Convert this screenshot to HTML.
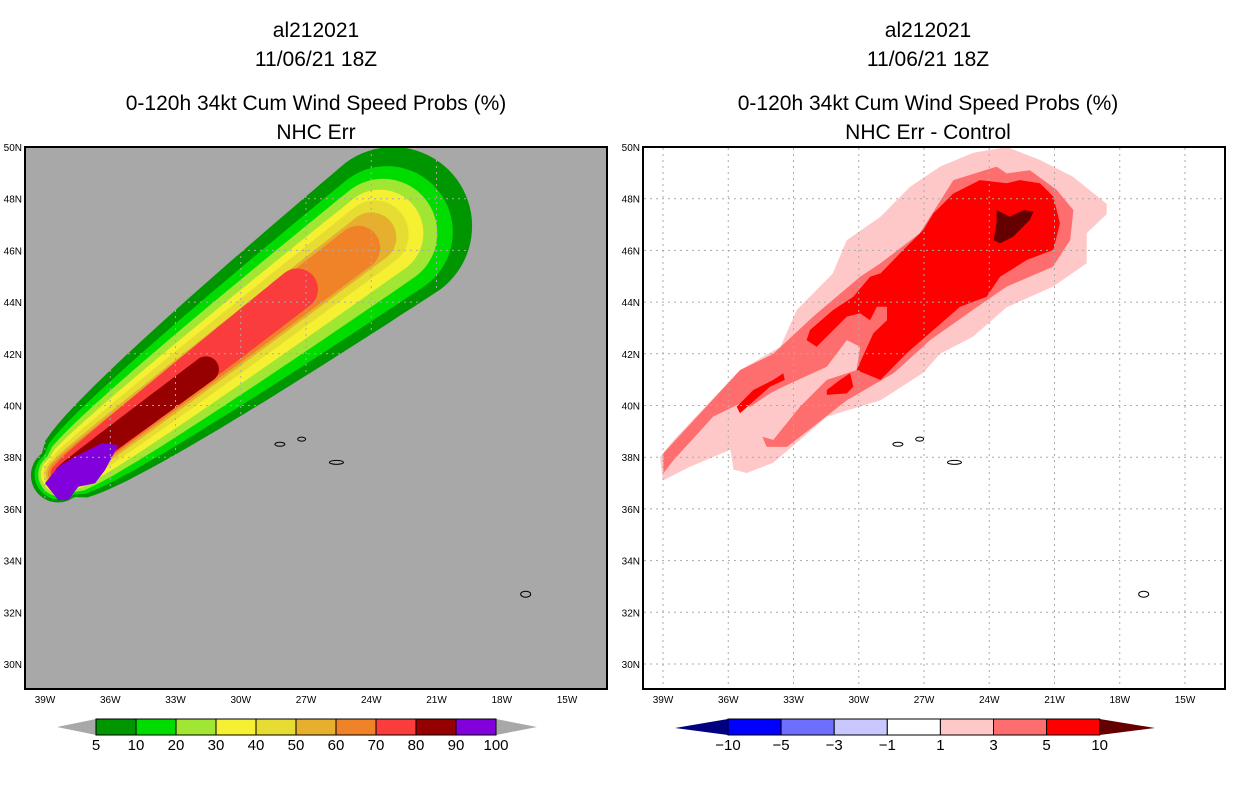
<!DOCTYPE html>
<html><head><meta charset="utf-8">
<style>
html,body{margin:0;padding:0;background:#fff;}
svg{display:block;font-family:"Liberation Sans",sans-serif;}
</style></head>
<body>
<svg id="root" width="1236" height="800" viewBox="0 0 1236 800" xmlns="http://www.w3.org/2000/svg">
  <defs>
    <clipPath id="clipL"><rect x="25" y="147" width="582" height="542"/></clipPath>
    <clipPath id="clipR"><rect x="643" y="147" width="582" height="542"/></clipPath>
  </defs>
  <g font-size="21" text-anchor="middle" fill="#000">
    <text x="316" y="37">al212021</text>
    <text x="316" y="66">11/06/21 18Z</text>
    <text x="316" y="110">0-120h 34kt Cum Wind Speed Probs (%)</text>
    <text x="316" y="139">NHC Err</text>
  </g>
  <g font-size="21" text-anchor="middle" fill="#000">
    <text x="928" y="37">al212021</text>
    <text x="928" y="66">11/06/21 18Z</text>
    <text x="928" y="110">0-120h 34kt Cum Wind Speed Probs (%)</text>
    <text x="928" y="139">NHC Err - Control</text>
  </g>
  <rect x="25" y="147" width="582" height="542" fill="#a8a8a8"/>
  <g id="leftFill" clip-path="url(#clipL)"></g>
  <g id="rightFill" clip-path="url(#clipR)"></g>
  <g id="grids"></g>
  <g id="islands"></g>
  <rect x="25" y="147" width="582" height="542" fill="none" stroke="#000" stroke-width="2"/>
  <rect x="643" y="147" width="582" height="542" fill="none" stroke="#000" stroke-width="2"/>
  <g id="axes" font-size="10" fill="#000"></g>
  <g id="cbars"></g>
</svg>
<script>
const NS="http://www.w3.org/2000/svg";
// ---- data ----
const lonTicks=[39,36,33,30,27,24,21,18,15];
const latTicks=[50,48,46,44,42,40,38,36,34,32,30];
// left panel probability levels (plume: tail lon/lat, head lon/lat, radii in deg)
const probLevels=[5,10,20,30,40,50,60,70,80];
const probColors=["#009600","#00dc00","#a0e632","#f5f032","#e6dc32","#e6af2d","#f08228","#fa3c3c","#960000"];
const headLon=[23.0,23.28,23.46,23.6,23.83,24.0,24.6,27.4,31.6];
const headLat=[46.94,46.71,46.67,46.67,46.63,46.5,46.1,44.5,41.4];
const headR=[3.06,2.55,2.1,1.68,1.3,0.97,0.85,0.8,0.5];
const tailLon=[38.4,38.35,38.3,38.28,38.26,38.24,38.24,38.2,38.1];
const tailLat=[37.3,37.32,37.33,37.34,37.35,37.35,37.35,37.35,37.35];
const tailR=[1.05,0.95,0.85,0.76,0.68,0.6,0.52,0.45,0.38];
const purpleLon=[39.0,38.39,37.93,37.47,36.7,36.24,35.63,36.39,37.62,38.39];
const purpleLat=[36.99,36.34,36.34,36.86,36.99,37.5,38.47,38.54,38.02,37.63];
const cbarLeftLabels=["5","10","20","30","40","50","60","70","80","90","100"];
const cbarLeftColors=["#009600","#00dc00","#a0e632","#f5f032","#e6dc32","#e6af2d","#f08228","#fa3c3c","#960000","#8200dc"];
// right panel difference contours
const diffPinkLon=[39.14,38.5,35.46,33.6,32.85,31.2,30.55,29.0,27.64,26.26,24.75,23.2,21.67,20.15,18.6,18.6,19.52,19.52,21.07,23.2,24.75,26.26,27.04,29.0,31.47,32.7,33.94,35.15,35.76,35.9,37.76,39.0];
const diffPinkLat=[38.0,38.67,41.37,42.27,43.7,45.1,46.4,47.3,48.46,49.24,49.77,50.0,49.5,48.85,47.8,47.4,46.67,45.5,44.6,43.8,42.66,42.0,41.26,40.2,39.57,38.67,37.78,37.39,37.52,38.29,37.63,37.1];
const diffMedLon=[38.98,35.46,33.93,32.1,29.94,29.0,27.2,25.65,23.66,23.2,22.13,20.9,20.13,20.28,21.07,23.2,24.75,26.72,28.4,30.55,32.1,33.3,34.23,35.15,36.69,38.5,38.98];
const diffMedLat=[38.15,41.37,42.0,43.44,44.98,45.5,46.66,48.72,49.24,48.98,49.1,48.34,47.56,46.4,45.37,44.6,43.7,42.53,41.25,40.2,39.18,38.4,38.4,40.2,39.57,37.9,37.38];
const diffHoleLon=[33.47,31.47,30.55,29.94,30.1,31.47,32.7,33.93,35.0,35.0,34.08];
const diffHoleLat=[40.73,41.5,42.53,42.27,41.37,40.99,39.95,38.67,38.92,39.95,40.47];
const diffRedLon=[30.25,29.48,29.0,27.95,27.03,26.57,25.65,24.43,23.2,22.59,21.67,21.05,20.75,21.05,22.28,23.5,24.12,25.34,26.57,27.8,29.0,30.1,29.33,28.7,28.7,29.17,29.48,29.94,30.55,31.94,32.4,32.24,31.17];
const diffRedLat=[44.21,44.98,45.11,46.02,46.79,47.43,48.2,48.72,48.6,48.72,48.6,48.08,47.05,46.02,45.63,44.98,44.21,43.82,42.92,42.02,40.99,41.37,42.79,43.3,43.82,43.82,43.3,43.57,43.44,42.27,42.53,42.92,43.7];
const diffBlobALon=[35.61,34.85,33.93,33.47,33.4,34.08,35.46];
const diffBlobALat=[39.95,40.6,40.99,41.25,40.99,40.73,39.7];
const diffBlobBLon=[31.47,30.86,30.4,30.25,30.55,31.47];
const diffBlobBLat=[40.6,40.99,41.25,40.73,40.47,40.41];
const diffDarkLon=[23.66,23.05,22.43,21.97,22.13,22.9,23.5,23.8,23.66];
const diffDarkLat=[47.56,47.3,47.56,47.5,47.18,46.53,46.27,46.4,47.05];
const cbarRightLabels=["-10","-5","-3","-1","1","3","5","10"];
const cbarRightColors=["#0000ff","#6e6eff","#c8c8ff","#ffffff","#ffc8c8","#ff6e6e","#ff0000"];

// ---- axis functions ----
const PXLON=21.75, PXLAT=25.85;
function xOf(lonW,off){return 45+off+(39-lonW)*PXLON;}
function yOf(lat){return 147+(50-lat)*PXLAT;}
function el(tag,attrs,parent){const e=document.createElementNS(NS,tag);for(const k in attrs)e.setAttribute(k,attrs[k]);parent.appendChild(e);return e;}
function polyPts(lons,lats,off){return lons.map((l,i)=>xOf(l,off).toFixed(1)+","+yOf(lats[i]).toFixed(1)).join(" ");}

// left plume outlines (radius grows like sqrt along the track)
const LF=document.getElementById('leftFill');
function plume(x0,y0,r0,x1,y1,r1){
  const dx=x1-x0,dy=y1-y0,L=Math.hypot(dx,dy);
  const ux=dx/L,uy=dy/L,nx=-uy,ny=ux;const b=Math.atan2(uy,ux);
  const N=40,up=[],lo=[];
  for(let i=0;i<=N;i++){const t=i/N;const r=r0+(r1-r0)*Math.sqrt(t);
    const cx=x0+dx*t,cy=y0+dy*t;up.push([cx+r*nx,cy+r*ny]);lo.push([cx-r*nx,cy-r*ny]);}
  const pts=up.slice();
  // head arc from +n through +u to -n
  for(let i=1;i<N;i++){const a=b+Math.PI/2-Math.PI*i/N;pts.push([x1+r1*Math.cos(a),y1+r1*Math.sin(a)]);}
  for(let i=N;i>=0;i--)pts.push(lo[i]);
  for(let i=1;i<N;i++){const a=b-Math.PI/2-Math.PI*i/N;pts.push([x0+r0*Math.cos(a),y0+r0*Math.sin(a)]);}
  return pts.map(p=>p[0].toFixed(1)+","+p[1].toFixed(1)).join(" ");
}
for(let i=0;i<probLevels.length;i++){
  const p=el('polygon',{points:plume(xOf(tailLon[i],0),yOf(tailLat[i]),tailR[i]*PXLAT,xOf(headLon[i],0),yOf(headLat[i]),headR[i]*PXLAT),fill:probColors[i]},LF);
  
  
}
const pp=el('polygon',{points:polyPts(purpleLon,purpleLat,0),fill:"#8200dc"},LF);



// right polygons
const RF=document.getElementById('rightFill');
const rset=[[diffPinkLon,diffPinkLat,"#ffc8c8","diff-contour-1"],[diffMedLon,diffMedLat,"#ff6e6e","diff-contour-3"],[diffHoleLon,diffHoleLat,"#ffc8c8","diff-contour-1-gap"],[diffRedLon,diffRedLat,"#ff0000","diff-contour-5"],[diffBlobALon,diffBlobALat,"#ff0000","diff-contour-5-west"],[diffBlobBLon,diffBlobBLat,"#ff0000","diff-contour-5-south"],[diffDarkLon,diffDarkLat,"#640000","diff-contour-10"]];
rset.forEach(s=>{
  const p=el('polygon',{points:polyPts(s[0],s[1],618),fill:s[2]},RF);
  
  
});

// grids + axis labels
const G=document.getElementById('grids'),AX=document.getElementById('axes');
[0,618].forEach(off=>{
  lonTicks.forEach(l=>{const x=xOf(l,off);
    el('line',{x1:x,y1:148,x2:x,y2:688,stroke:"#aaaaaa","stroke-dasharray":"2,4","stroke-width":1},G);
    const t=el('text',{x:x,y:703,"text-anchor":"middle"},AX);t.textContent=l+"W";
  });
  latTicks.forEach(l=>{const y=yOf(l);
    el('line',{x1:26+off,y1:y,x2:606+off,y2:y,stroke:"#aaaaaa","stroke-dasharray":"2,4","stroke-width":1},G);
    const t=el('text',{x:22+off,y:y+4,"text-anchor":"end"},AX);t.textContent=l+"N";
  });
});
// islands
const IS=document.getElementById('islands');
[0,618].forEach(off=>{
  [[28.2,38.5,5,2],[27.2,38.7,4,2],[25.6,37.8,7,2],[16.9,32.7,5,3]].forEach(d=>{
    el('ellipse',{cx:xOf(d[0],off),cy:yOf(d[1]),rx:d[2],ry:d[3],fill:"none",stroke:"#000","stroke-width":1},IS);
  });
});

// colorbars
const CB=document.getElementById('cbars');
(function(){
  const x0=96,w=40,y0=719,h=16,n=cbarLeftColors.length;
  el('polygon',{points:`57,727 ${x0},${y0} ${x0},${y0+h}`,fill:"#a8a8a8"},CB);
  el('polygon',{points:`${x0+n*w},${y0} 537,727 ${x0+n*w},${y0+h}`,fill:"#a8a8a8"},CB);
  cbarLeftColors.forEach((c,i)=>{el('rect',{x:x0+i*w,y:y0,width:w,height:h,fill:c,stroke:"#000","stroke-width":1},CB);});
  cbarLeftLabels.forEach((s,i)=>{const t=el('text',{x:x0+i*w,y:y0+h+15,"text-anchor":"middle","font-size":15},CB);t.textContent=s;});
})();
(function(){
  const x0=728,w=53.1,y0=719,h=16,n=cbarRightColors.length;
  el('polygon',{points:`675,728 ${x0},${y0} ${x0},${y0+h}`,fill:"#000080"},CB);
  el('polygon',{points:`${x0+n*w},${y0} 1155,728 ${x0+n*w},${y0+h}`,fill:"#640000"},CB);
  cbarRightColors.forEach((c,i)=>{el('rect',{x:x0+i*w,y:y0,width:w,height:h,fill:c,stroke:"#000","stroke-width":1},CB);});
  cbarRightLabels.forEach((s,i)=>{const t=el('text',{x:x0+i*w,y:y0+h+15,"text-anchor":"middle","font-size":15},CB);t.textContent=s.replace('-','\u2212');});
})();
</script>
</body></html>
